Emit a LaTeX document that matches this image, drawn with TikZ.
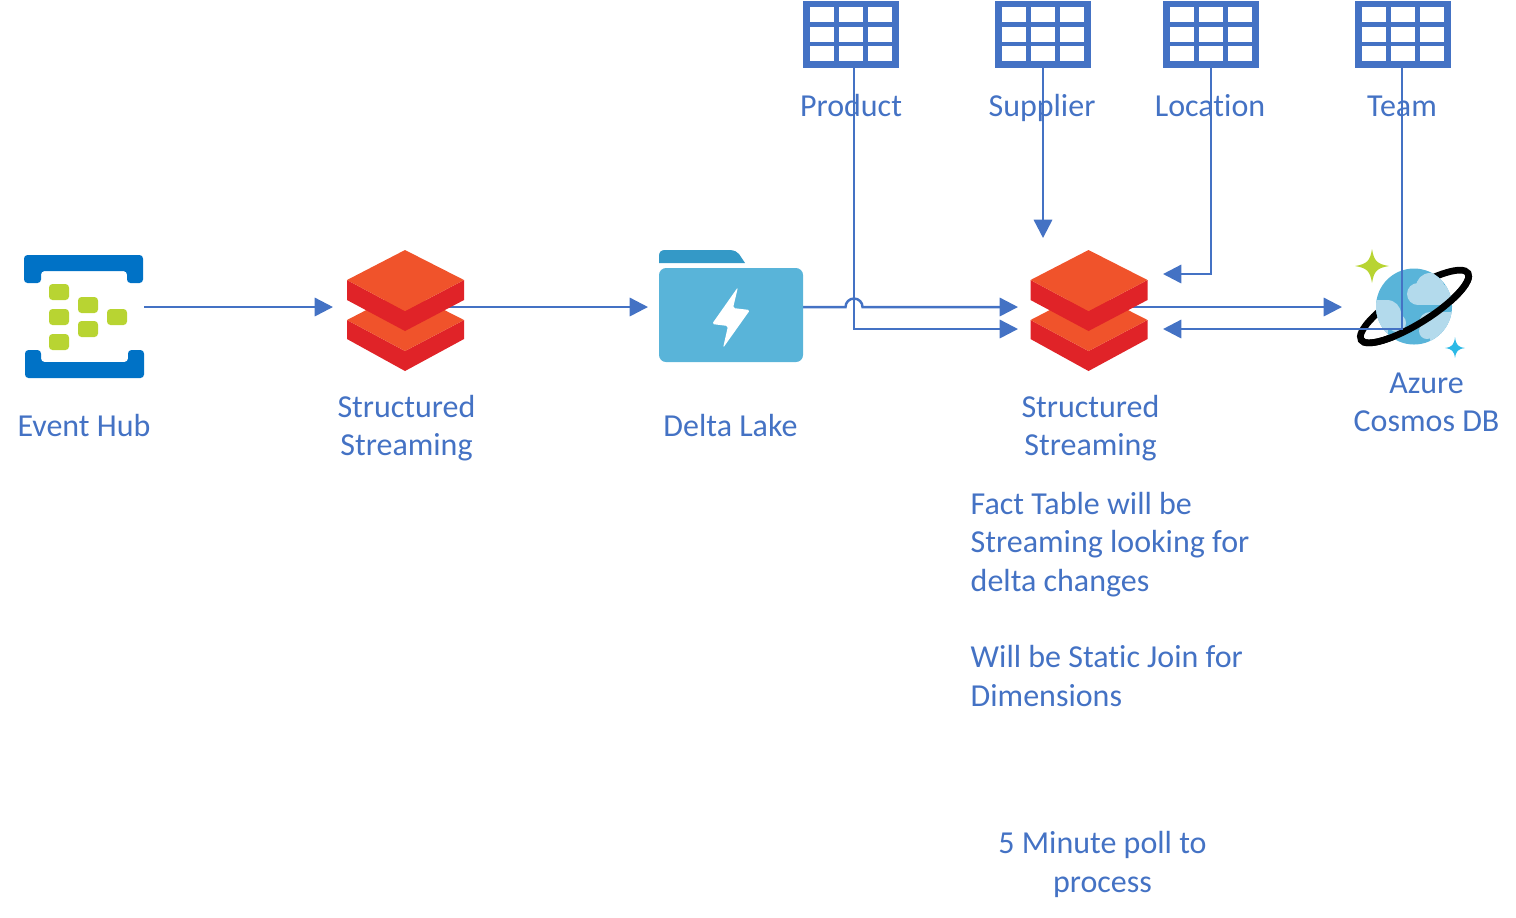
\documentclass[tikz,border=0pt]{standalone}
\usepackage{fontspec}
\setmainfont{Carlito}[Ligatures=NoCommon]
\usetikzlibrary{arrows.meta, positioning}

\definecolor{linkblue}{HTML}{4472C4}
\definecolor{hubblue}{HTML}{0072C6}
\definecolor{hubgreen}{HTML}{B8D432}
\definecolor{brickface}{HTML}{F0532B}
\definecolor{brickside}{HTML}{E02328}
\definecolor{lakeblue}{HTML}{59B4D9}
\definecolor{laketab}{HTML}{3499C7}
\definecolor{cloudblue}{HTML}{B3DAEC}
\definecolor{starblue}{HTML}{2BB9E6}

\begin{document}
\begin{tikzpicture}[
    x=0.01cm, y=-0.01cm,
    iconbox/.style={rectangle, inner sep=0pt, outer sep=0pt},
    txt/.style={text=linkblue, inner sep=0pt, align=center, font=\fontsize{9.1}{10.9}\selectfont},
    flow/.style={draw=linkblue, line width=0.7pt, -{Triangle[length=5.2pt, width=5.2pt]}},
    brick/.pic={
        % lower block
        \fill[brickside] (-58,70) -- (0,101) -- (59,70) -- (59,89) -- (0,121) -- (-58,89) -- cycle;
        \fill[brickface] (0,40) -- (59,70) -- (0,101) -- (-58,70) -- cycle;
        % upper block
        \fill[brickside] (-58,30) -- (0,61) -- (59,30) -- (59,50) -- (0,81) -- (-58,50) -- cycle;
        \fill[brickface] (0,0) -- (59,30) -- (0,61) -- (-58,30) -- cycle;
    },
    tablegrid/.pic={
        \fill[linkblue] (0,0) rectangle (96,67);
        \foreach \cx in {7,36,65} {
            \foreach \cy in {6,26,45} {
                \fill[white] (\cx,\cy) rectangle +(24,15);
            }
        }
    }
]

\useasboundingbox (0,0) rectangle (1516,917);

% Icon boxes
\node[iconbox, minimum width=1.20cm, minimum height=1.23cm] (hub) at (84,316.5) {};
\node[iconbox, minimum width=1.17cm, minimum height=1.21cm] (stream1) at (405,310.5) {};
\node[iconbox, minimum width=1.44cm, minimum height=1.13cm] (lake) at (731,306.5) {};
\node[iconbox, minimum width=1.17cm, minimum height=1.21cm] (stream2) at (1088.5,310.5) {};
\node[iconbox, minimum width=1.16cm, minimum height=0.96cm] (cosmos) at (1415,307) {};

% Dimension tables
\node[iconbox, minimum width=0.96cm, minimum height=0.67cm] (product) at (851,34.5) {};
\node[iconbox, minimum width=0.96cm, minimum height=0.67cm] (supplier) at (1043,34.5) {};
\node[iconbox, minimum width=0.96cm, minimum height=0.67cm] (location) at (1211,34.5) {};
\node[iconbox, minimum width=0.96cm, minimum height=0.67cm] (team) at (1403,34.5) {};

% Free arrow ends
\coordinate (stream1in) at (333,307);
\coordinate (lakein) at (648,307);
\coordinate (factin) at (1018,307);
\coordinate (dimin) at (1018,329);
\coordinate (cosmosin) at (1342,307);
\coordinate (cosmosback) at (1163,329);
\coordinate (supplierin) at (1043,238);
\coordinate (locationin) at (1163,274);
\coordinate (hopstart) at (845.5,307);
\coordinate (productbend) at (854,329);
\coordinate (locationbend) at (1211,274);
\coordinate (teambend) at (1402,329);

% Links that pass behind the icons
\draw[flow] (hub.east |- stream1in) -- (stream1in);
\draw[flow] (stream1 |- lakein) -- (lakein);
\draw[flow] (stream2 |- cosmosin) -- (cosmosin);
\draw[flow] (lake.east |- factin) -- (hopstart) arc[start angle=180, delta angle=180, radius=8.5] -- (factin);

% Event Hub icon
\fill[hubblue, rounded corners=1pt] (24,255) -- (143,255) -- (143,283) -- (127,283) -- (127,271) -- (41,271) -- (41,283) -- (24,283) -- cycle;
\fill[hubblue, rounded corners=1pt] (25,350) -- (41,350) -- (41,362) -- (128,362) -- (128,350) -- (144,350) -- (144,378) -- (25,378) -- cycle;
\foreach \sx/\sy in {49/284, 49/309, 49/334, 78/297, 78/321, 107/309} {
    \fill[hubgreen, rounded corners=1pt] (\sx,\sy) rectangle +(20,16);
}

% Databricks icons
\pic at (405,250) {brick};
\pic at (1088.5,250) {brick};

% Delta Lake folder
\fill[laketab] (659,263) -- (659,256) .. controls (659,252) and (661,250) .. (665,250) -- (729,250) .. controls (735,250) and (737,252) .. (739,254) -- (745,263) -- cycle;
\fill[lakeblue, rounded corners=2pt] (659,268) rectangle (803,362);
\fill[white, rounded corners=0.5pt] (738,287) -- (712,324) -- (728,326) -- (723,348) -- (750,310) -- (733,308) -- cycle;

% Cosmos DB planet
\begin{scope}[shift={(1414.5,306.5)}, rotate=32]
    \draw[black, line width=1.9pt] (0,0) ellipse [x radius=63, y radius=17];
\end{scope}
\fill[lakeblue] (1414,306.5) circle [radius=38];
\begin{scope}
    \clip (1414,306.5) circle [radius=38];
    % upper cloud
    \fill[cloudblue] (1418,294) circle [radius=11];
    \fill[cloudblue] (1430,287) circle [radius=14];
    \fill[cloudblue] (1418,285) rectangle (1456,305);
    % left cloud
    \fill[cloudblue] (1387,314) circle [radius=14];
    \fill[cloudblue] (1397,323) circle [radius=9];
    \fill[cloudblue] (1374,300) rectangle (1388,345);
    % right cloud
    \fill[cloudblue] (1430,323) circle [radius=11];
    \fill[cloudblue] (1427,331) circle [radius=8];
    \fill[cloudblue] (1430,312) rectangle (1456,345);
\end{scope}
\begin{scope}[shift={(1414.5,306.5)}, rotate=32]
    \draw[black, line width=1.9pt] (-63,0) arc[start angle=180, delta angle=-180, x radius=63, y radius=17];
\end{scope}
\fill[hubgreen] (1372,249) .. controls (1374,261) and (1377,264) .. (1389,266) .. controls (1377,268) and (1374,271) .. (1372,283) .. controls (1370,271) and (1367,268) .. (1355,266) .. controls (1367,264) and (1370,261) .. (1372,249) -- cycle;
\fill[starblue] (1455,337) .. controls (1456,345) and (1458,347) .. (1465,348) .. controls (1458,349) and (1456,351) .. (1455,358) .. controls (1454,351) and (1452,349) .. (1445,348) .. controls (1452,347) and (1454,345) .. (1455,337) -- cycle;

% Table icons
\pic at (803,1) {tablegrid};
\pic at (995,1) {tablegrid};
\pic at (1163,1) {tablegrid};
\pic at (1355,1) {tablegrid};

% Labels
\node[txt] (hublabel) at (84,425) {Event Hub};
\node[txt] (stream1label) at (406.5,428) {Structured\\Streaming};
\node[txt] (lakelabel) at (730.5,425) {Delta Lake};
\node[txt] (stream2label) at (1090.5,428) {Structured\\Streaming};
\node[txt] (cosmoslabel) at (1426.5,402) {Azure\\Cosmos DB};
\node[txt] (productlabel) at (851,105) {Product};
\node[txt] (supplierlabel) at (1042,108) {Supplier};
\node[txt] (locationlabel) at (1210,106) {Location};
\node[txt] (teamlabel) at (1402,106) {Team};
\node[txt, anchor=north west, align=left] (factnote) at (970,491.5) {Fact Table will be\\Streaming looking for\\delta changes\\[10.9pt]Will be Static Join for\\Dimensions};
\node[txt] (pollnote) at (1102.5,864.5) {5 Minute poll to\\process};

% Links from the dimension tables
\draw[flow] (productbend |- product.south) -- (productbend) -- (dimin);
\draw[flow] (supplier.south) -- (supplierin);
\draw[flow] (location.south) -- (locationbend) -- (locationin);
\draw[flow] (teambend |- team.south) -- (teambend) -- (cosmosback);

\end{tikzpicture}
\end{document}
